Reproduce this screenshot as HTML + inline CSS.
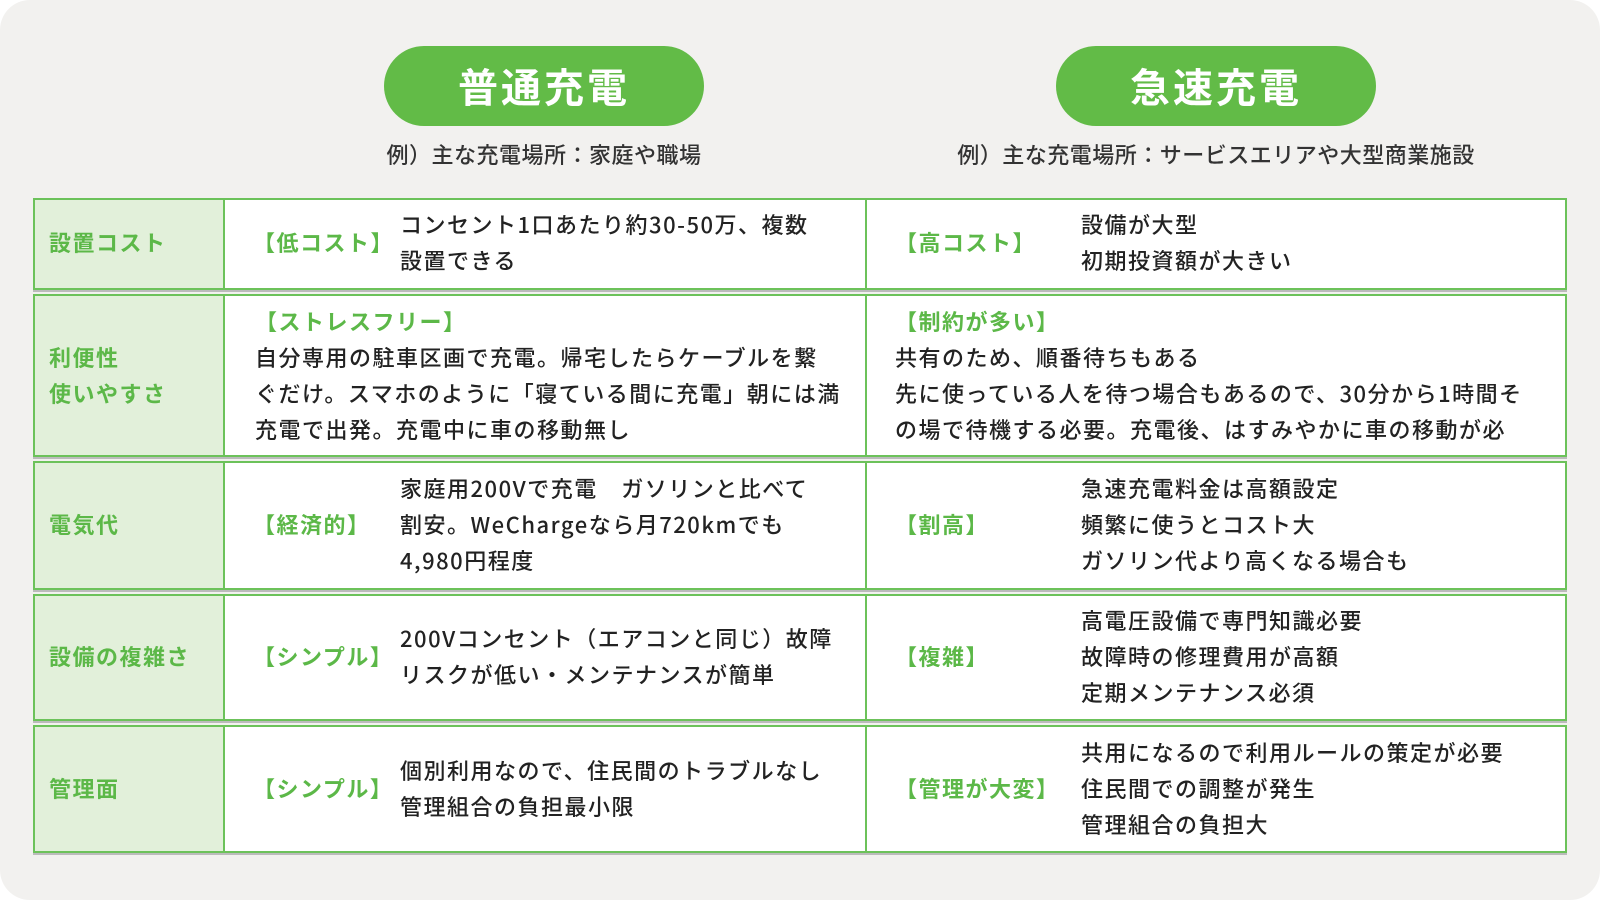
<!DOCTYPE html>
<html><head><meta charset="utf-8"><style>
*{margin:0;padding:0;box-sizing:border-box}
body{width:1600px;height:900px;background:#fff;overflow:hidden;font-family:"Noto Sans CJK JP","Liberation Sans",sans-serif;}
#bg{position:absolute;left:0;top:0;width:1600px;height:900px;background:#f2f1ef;border-radius:30px 30px 30px 30px}
.pill{position:absolute;top:46px;width:320px;height:80px;border-radius:40px;background:#62bb47;color:#fff;font-size:40px;font-weight:700;letter-spacing:3px;text-align:center;line-height:78px}
.sub{position:absolute;top:139px;font-size:22px;line-height:30px;color:#333;text-align:center;width:600px;letter-spacing:0.5px;font-weight:500}
.row{position:absolute;left:33px;width:1534px;border:2px solid #6cc25a;background:#fff;box-shadow:0 2px 0 #bbb}
.lab{position:absolute;left:0;top:0;bottom:0;width:190px;background:#e2f0da;border-right:2px solid #6cc25a}
.div{position:absolute;left:830px;top:0;bottom:0;border-left:2px solid #6cc25a}
.t{position:absolute;font-size:22px;line-height:36px;letter-spacing:1.5px;white-space:nowrap;font-weight:500;color:#222;margin-top:-2px}
.g{color:#5cb848;font-weight:700}
</style></head><body>
<div id="bg"></div>
<div class="pill" style="left:384px">普通充電</div>
<div class="pill" style="left:1056px">急速充電</div>
<div class="sub" style="left:244px">例）主な充電場所：家庭や職場</div>
<div class="sub" style="left:916px">例）主な充電場所：サービスエリアや大型商業施設</div>

<div class="row" style="top:198px;height:92px"><div class="lab"></div><div class="div"></div>
<div class="t g" style="left:14px;top:26px">設置コスト</div>
<div class="t g" style="left:218px;top:26px">【低コスト】</div>
<div class="t" style="left:365px;top:8px">コンセント1口あたり約30-50万、複数<br>設置できる</div>
<div class="t g" style="left:860px;top:26px">【高コスト】</div>
<div class="t" style="left:1046px;top:8px">設備が大型<br>初期投資額が大きい</div>
</div>

<div class="row" style="top:294px;height:163px;overflow:hidden"><div class="lab"></div><div class="div"></div>
<div class="t g" style="left:14px;top:45px">利便性<br>使いやすさ</div>
<div class="t" style="left:220px;top:9px"><span class="g">【ストレスフリー】</span><br>自分専用の駐車区画で充電。帰宅したらケーブルを繋<br>ぐだけ。スマホのように「寝ている間に充電」朝には満<br>充電で出発。充電中に車の移動無し</div>
<div class="t" style="left:860px;top:9px"><span class="g">【制約が多い】</span><br>共有のため、順番待ちもある<br>先に使っている人を待つ場合もあるので、30分から1時間そ<br>の場で待機する必要。充電後、はすみやかに車の移動が必</div>
</div>

<div class="row" style="top:461px;height:129px"><div class="lab"></div><div class="div"></div>
<div class="t g" style="left:14px;top:45px">電気代</div>
<div class="t g" style="left:218px;top:45px">【経済的】</div>
<div class="t" style="left:365px;top:9px">家庭用200Vで充電　ガソリンと比べて<br>割安。WeChargeなら月720kmでも<br>4,980円程度</div>
<div class="t g" style="left:860px;top:45px">【割高】</div>
<div class="t" style="left:1046px;top:9px">急速充電料金は高額設定<br>頻繁に使うとコスト大<br>ガソリン代より高くなる場合も</div>
</div>

<div class="row" style="top:594px;height:127px"><div class="lab"></div><div class="div"></div>
<div class="t g" style="left:14px;top:44px">設備の複雑さ</div>
<div class="t g" style="left:218px;top:44px">【シンプル】</div>
<div class="t" style="left:365px;top:26px">200Vコンセント（エアコンと同じ）故障<br>リスクが低い・メンテナンスが簡単</div>
<div class="t g" style="left:860px;top:44px">【複雑】</div>
<div class="t" style="left:1046px;top:8px">高電圧設備で専門知識必要<br>故障時の修理費用が高額<br>定期メンテナンス必須</div>
</div>

<div class="row" style="top:725px;height:128px"><div class="lab"></div><div class="div"></div>
<div class="t g" style="left:14px;top:45px">管理面</div>
<div class="t g" style="left:218px;top:45px">【シンプル】</div>
<div class="t" style="left:365px;top:27px">個別利用なので、住民間のトラブルなし<br>管理組合の負担最小限</div>
<div class="t g" style="left:860px;top:45px">【管理が大変】</div>
<div class="t" style="left:1046px;top:9px">共用になるので利用ルールの策定が必要<br>住民間での調整が発生<br>管理組合の負担大</div>
</div>
</body></html>
